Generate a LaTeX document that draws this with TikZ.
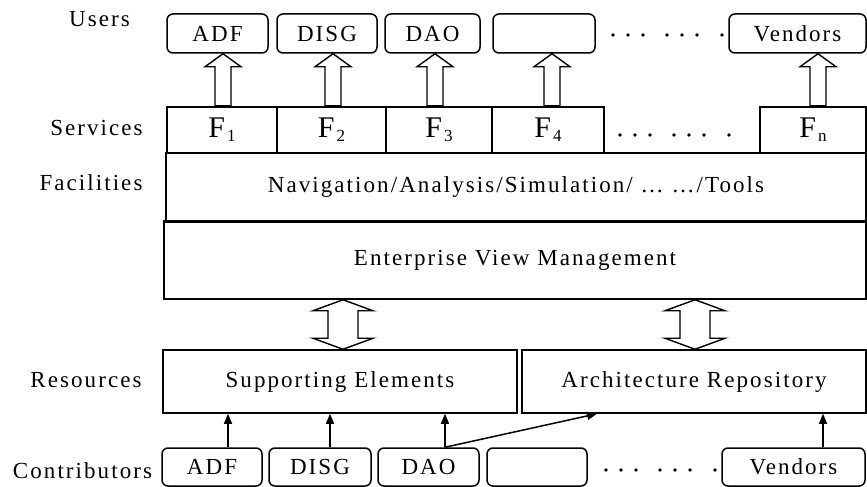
\documentclass[tikz,border=0pt]{standalone}
\usepackage{fontspec}
\setmainfont{Liberation Serif}[LetterSpace=9]
\usetikzlibrary{calc,arrows.meta}
\newcommand\Fsub[1]{{\fontsize{30}{32}\selectfont F\hspace{2pt}\raisebox{-4pt}{\fontsize{17}{17}\selectfont #1}}}
\newcommand\blkup[3]{%
  \draw[blk] let \p1=([xshift=#3]#1.north), \p2=(#2.south) in
    (\x1-8pt,\y1) -- (\x1-8pt,\y2-13pt) -- (\x1-18pt,\y2-13pt) -- (\x1,\y2)
    -- (\x1+18pt,\y2-13pt) -- (\x1+8pt,\y2-13pt) -- (\x1+8pt,\y1) -- cycle;}
\newcommand\blkboth[3]{%
  \draw[blk] let \p1=([xshift=#3]#1.north), \p2=(#2.south) in
    (\x1,\y1) -- (\x1-30pt,\y1+11pt) -- (\x1-15pt,\y1+11pt) -- (\x1-15pt,\y2-11pt)
    -- (\x1-30pt,\y2-11pt) -- (\x1,\y2) -- (\x1+30pt,\y2-11pt) -- (\x1+15pt,\y2-11pt)
    -- (\x1+15pt,\y1+11pt) -- (\x1+30pt,\y1+11pt) -- cycle;}
\tikzset{
  every node/.style={font=\fontsize{23}{26}\selectfont},
  box/.style={draw, line width=1.5pt, inner sep=0pt, rectangle},
  rbox/.style={box, rounded corners=6pt},
  fbox/.style={draw, line width=2.2pt, inner sep=0pt, rectangle},
  lab/.style={anchor=base, inner sep=0pt},
  blk/.style={draw, fill=white, line width=1.4pt, line join=miter},
  thinarr/.style={line width=1.5pt, -{Triangle[length=10pt,width=8pt]}},
  dot/.style={fill=black}
}
\begin{document}
\begin{tikzpicture}[x=1pt,y=-1pt]
\useasboundingbox (0,0) rectangle (867,487);
% left labels
\node[lab] (lUsers) at (99.5,27) {Users};
\node[lab] (lServ) at (96.5,135) {Services};
\node[lab] (lFac) at (91,190) {Facilities};
\node[lab] (lRes) at (86,387) {Resources};
\node[lab] (lCon) at (82.5,478) {Contributors};
% users
\node[rbox, minimum width=101, minimum height=39] (uADF) at (217.5,33.5) {ADF};
\node[rbox, minimum width=100, minimum height=39] (uDISG) at (327,33.5) {DISG};
\node[rbox, minimum width=95, minimum height=39] (uDAO) at (432.5,33.5) {DAO};
\node[rbox, minimum width=102, minimum height=39] (uBlank) at (544,33.5) {};
\node[rbox, minimum width=137, minimum height=39] (uVend) at (797.5,33.5) {Vendors};
% facilities + EVM
\node[box, minimum width=700, minimum height=69] (Fac) at (516,187.5) {Navigation/Analysis/Simulation/ … …/Tools};
\node[box, minimum width=702, minimum height=77] (EVM) at (515,260.5) {Enterprise View Management};
\draw[line width=3pt] (EVM.north west) -- (EVM.north east);
% services
\node[fbox, minimum width=110, minimum height=46] (F1) at (222,130) {\Fsub{1}};
\node[fbox, minimum width=109, minimum height=46] (F2) at (331.5,130) {\Fsub{2}};
\node[fbox, minimum width=106, minimum height=46] (F3) at (439,130) {\Fsub{3}};
\node[fbox, minimum width=112, minimum height=46] (F4) at (548,130) {\Fsub{4}};
\node[fbox, minimum width=106, minimum height=46] (Fn) at (813,130) {\Fsub{n}};
% resources
\node[box, minimum width=354, minimum height=63] (SE) at (340,381.5) {Supporting Elements};
\node[box, minimum width=344, minimum height=63] (AR) at (694,381.5) {Architecture Repository};
% contributors
\node[rbox, minimum width=100, minimum height=38] (cADF) at (212,467) {ADF};
\node[rbox, minimum width=102, minimum height=38] (cDISG) at (320,467) {DISG};
\node[rbox, minimum width=101, minimum height=38] (cDAO) at (428.5,467) {DAO};
\node[rbox, minimum width=100, minimum height=38] (cBlank) at (537,467) {};
\node[rbox, minimum width=143, minimum height=38] (cVend) at (793.5,467) {Vendors};
% block arrows up
\blkup{F1}{uADF}{1pt}
\blkup{F2}{uDISG}{1.5pt}
\blkup{F3}{uDAO}{-4pt}
\blkup{F4}{uBlank}{4pt}
\blkup{Fn}{uVend}{5pt}
% double arrows
\blkboth{SE}{EVM}{3pt}
\blkboth{AR}{EVM}{1pt}
% thin arrows
\draw[thinarr] ([xshift=16pt]cADF.north) -- ([xshift=16pt]cADF.north |- SE.south);
\draw[thinarr] ([xshift=10pt]cDISG.north) -- ([xshift=10pt]cDISG.north |- SE.south);
\draw[thinarr] ([xshift=16.5pt]cDAO.north) -- ([xshift=16.5pt]cDAO.north |- SE.south);
\draw[thinarr] ([xshift=16.5pt]cDAO.north) -- ([xshift=-97pt]AR.south);
\draw[thinarr] ([xshift=29.5pt]cVend.north) -- ([xshift=29.5pt]cVend.north |- AR.south);
% dots
\foreach \x in {613,628,643,667,682,697,722} \fill[dot] (\x,35) circle (1.9pt);
\foreach \x in {620,635,650,674,689,704,729} \fill[dot] (\x,135) circle (1.9pt);
\foreach \x in {606,621,636,660,675,690,715} \fill[dot] (\x,470) circle (1.9pt);
\end{tikzpicture}
\end{document}
